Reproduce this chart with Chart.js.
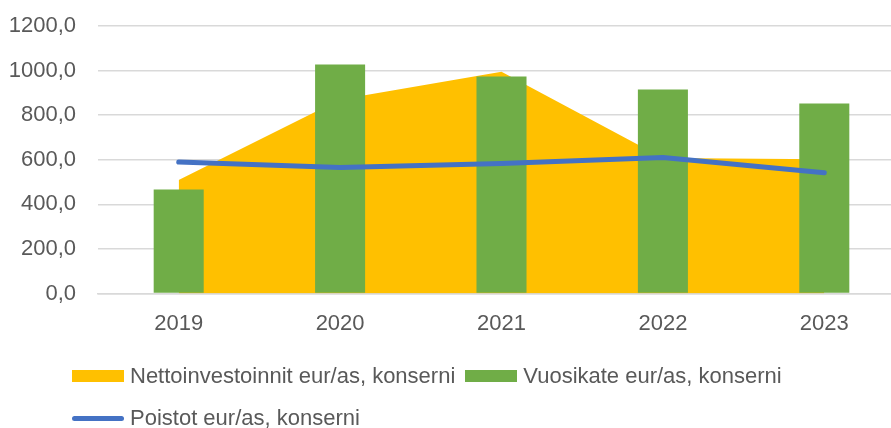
<!DOCTYPE html>
<html>
<head>
<meta charset="utf-8">
<script src="https://cdn.jsdelivr.net/npm/chart.js@4/dist/chart.umd.min.js"></script>
<style>
  html, body { margin: 0; padding: 0; background: #fff; overflow: hidden; width: 891px; height: 428px; }
  #wrap { position: relative; width: 905px; height: 428px; }
  #legend { position: absolute; left: 72px; top: 355px; width: 800px; display: flex; flex-wrap: wrap;
    font-family: "Liberation Sans", Arial, sans-serif; font-size: 22px; color: #595959; }
  .item { display: flex; align-items: center; height: 42px; margin-right: 10px; white-space: nowrap; }
  .sw { width: 52px; height: 12px; margin-right: 6px; }
  .ln { width: 52px; height: 5px; border-radius: 3px; margin-right: 6px; }
</style>
</head>
<body>
<div id="wrap">
  <canvas id="c" width="905" height="428"></canvas>
  <div id="legend"></div>
</div>
<script>
const categories = ["2019", "2020", "2021", "2022", "2023"];
const nettoinvestoinnit = [509, 870, 995, 608, 603];
const vuosikate = [467, 1027, 974, 915, 852];
const poistot = [590, 565, 583, 610, 542];
const seriesNames = ["Nettoinvestoinnit eur/as, konserni", "Vuosikate eur/as, konserni", "Poistot eur/as, konserni"];
const yTicks = [0, 200, 400, 600, 800, 1000, 1200];

const FONT = "'Liberation Sans', Arial, sans-serif";
const TXT = "#595959";

const chart = new Chart(document.getElementById("c"), {
  data: {
    labels: categories,
    datasets: [
      { type: "line", label: seriesNames[0], data: nettoinvestoinnit, fill: "origin",
        backgroundColor: "#FFC000", borderWidth: 0, pointRadius: 0, tension: 0, order: 3 },
      { type: "bar", label: seriesNames[1], data: vuosikate, backgroundColor: "#70AD47",
        barPercentage: 0.31, categoryPercentage: 1, order: 2 },
      { type: "line", label: seriesNames[2], data: poistot, borderColor: "#4472C4", borderWidth: 5,
        borderCapStyle: "round", borderJoinStyle: "round", pointRadius: 0, tension: 0, fill: false, order: 1 }
    ]
  },
  options: {
    responsive: false,
    animation: false,
    layout: { padding: { left: 9, top: 26, right: 0, bottom: 74 } },
    plugins: { legend: { display: false }, tooltip: { enabled: false } },
    scales: {
      x: {
        offset: true,
        grid: { display: false, drawTicks: false },
        border: { display: true, color: "#d9d9d9", width: 1.5 },
        ticks: { color: TXT, font: { family: FONT, size: 22 }, padding: 17, maxRotation: 0 }
      },
      y: {
        min: 0, max: 1200,
        afterBuildTicks: (s) => { s.ticks = yTicks.map(v => ({ value: v })); },
        afterFit: (s) => { s.width = 89; s.paddingTop = 0; s.paddingBottom = 0; },
        grid: { color: "#d9d9d9", lineWidth: 1.5, drawTicks: false },
        border: { display: false },
        ticks: { color: TXT, font: { family: FONT, size: 22 }, padding: 22,
          callback: (v) => Number(v).toFixed(1).replace(".", ",") }
      }
    }
  }
});

const leg = document.getElementById("legend");
chart.data.datasets.forEach((ds, i) => {
  const it = document.createElement("div");
  it.className = "item";
  const sw = document.createElement("span");
  if (i === 2) { sw.className = "ln"; sw.style.background = ds.borderColor; }
  else { sw.className = "sw"; sw.style.background = ds.backgroundColor; }
  const t = document.createElement("span");
  t.textContent = ds.label;
  it.appendChild(sw); it.appendChild(t);
  leg.appendChild(it);
});
</script>
</body>
</html>
